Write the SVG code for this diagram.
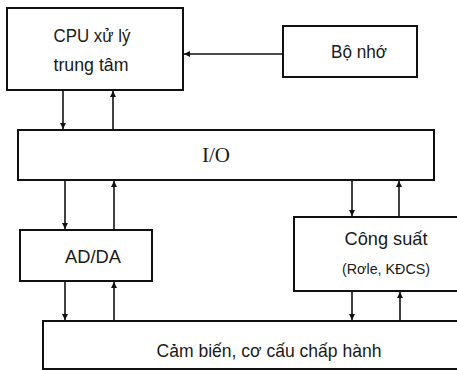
<svg xmlns="http://www.w3.org/2000/svg" width="457" height="370" viewBox="0 0 457 370">
<style>
.box{fill:#fff;stroke:#111;stroke-width:2}
.t{font-family:"Liberation Sans",Arial,sans-serif;fill:#1a1a1a;text-anchor:middle}
.c line{stroke:#111;stroke-width:1.6}
</style>
<defs>
<marker id="ah" viewBox="0 0 6 6" refX="6" refY="3" markerWidth="6" markerHeight="6" markerUnits="userSpaceOnUse" orient="auto">
<path d="M0,0 L6,3 L0,6 Z" fill="#111"/>
</marker>
</defs>
<rect width="457" height="370" fill="#fff"/>
<g id="cpu"><rect class="box" x="7" y="8" width="176" height="82"/>
<text class="t" x="92" y="42" font-size="19" textLength="77" lengthAdjust="spacingAndGlyphs">CPU xử lý</text>
<text class="t" x="91" y="71" font-size="19" textLength="75" lengthAdjust="spacingAndGlyphs">trung tâm</text></g>
<g id="mem"><rect class="box" x="283" y="26" width="134" height="51"/>
<text class="t" x="359" y="58" font-size="19" textLength="56" lengthAdjust="spacingAndGlyphs">Bộ nhớ</text></g>
<g id="io"><rect class="box" x="18" y="130" width="416" height="50"/>
<text x="216" y="162" font-size="20" text-anchor="middle" fill="#1a1a1a" font-family="'Liberation Serif','Times New Roman',serif" textLength="28" lengthAdjust="spacingAndGlyphs">I/O</text></g>
<g id="adda"><rect class="box" x="20" y="230" width="132" height="51"/>
<text class="t" x="93" y="263" font-size="19" textLength="56" lengthAdjust="spacingAndGlyphs">AD/DA</text></g>
<g id="power"><rect class="box" x="294" y="217" width="170" height="74"/>
<text class="t" x="386" y="245" font-size="19" textLength="83" lengthAdjust="spacingAndGlyphs">Công suất</text>
<text class="t" x="386" y="274" font-size="15.5" textLength="88" lengthAdjust="spacingAndGlyphs">(Rơle, KĐCS)</text></g>
<g id="sensor"><rect class="box" x="43" y="321" width="420" height="48"/>
<text class="t" x="269" y="357" font-size="19" textLength="225" lengthAdjust="spacingAndGlyphs">Cảm biến, cơ cấu chấp hành</text></g>
<g class="c" id="connectors">
<line x1="283" y1="54" x2="184" y2="54" marker-end="url(#ah)"/>
<line x1="63" y1="91" x2="63" y2="129" marker-end="url(#ah)"/>
<line x1="113" y1="129" x2="113" y2="91" marker-end="url(#ah)"/>
<line x1="65" y1="181" x2="65" y2="229" marker-end="url(#ah)"/>
<line x1="114" y1="229" x2="114" y2="181" marker-end="url(#ah)"/>
<line x1="65" y1="282" x2="65" y2="320" marker-end="url(#ah)"/>
<line x1="114" y1="320" x2="114" y2="282" marker-end="url(#ah)"/>
<line x1="352" y1="181" x2="352" y2="216" marker-end="url(#ah)"/>
<line x1="399" y1="216" x2="399" y2="181" marker-end="url(#ah)"/>
<line x1="352" y1="292" x2="352" y2="320" marker-end="url(#ah)"/>
<line x1="400" y1="320" x2="400" y2="292" marker-end="url(#ah)"/>
</g>
</svg>
